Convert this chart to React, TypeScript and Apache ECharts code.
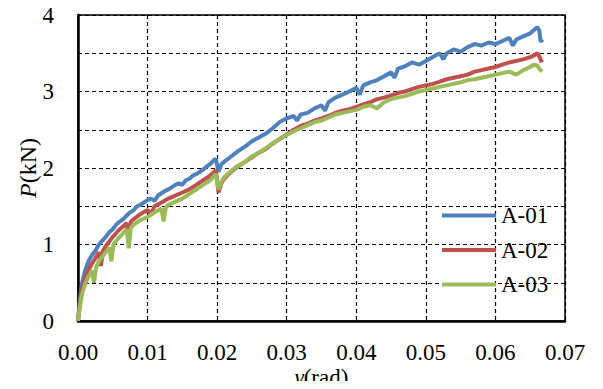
import React, { useEffect, useRef } from "react";
import * as echarts from "echarts";

const seriesNames = ["A-01", "A-02", "A-03"];
const seriesColors = ["#4F81BD", "#C0504D", "#9BBB59"];

const dataA01: [number, number][] = [
  [0, 0], [0.0003, 0.3], [0.0006, 0.5], [0.001, 0.65], [0.0015, 0.78], [0.002, 0.86], [0.0025, 0.92], [0.003, 1.0],
  [0.0035, 1.05], [0.004, 1.1], [0.0045, 1.16], [0.005, 1.2], [0.0055, 1.26], [0.006, 1.3], [0.0065, 1.33], [0.007, 1.38],
  [0.0075, 1.42], [0.008, 1.45], [0.0085, 1.5], [0.009, 1.52], [0.0095, 1.55], [0.01, 1.58], [0.0105, 1.6], [0.011, 1.57],
  [0.0115, 1.64], [0.012, 1.67], [0.0125, 1.7], [0.013, 1.72], [0.0135, 1.75], [0.014, 1.78], [0.0145, 1.8], [0.015, 1.78],
  [0.0155, 1.84], [0.016, 1.86], [0.0165, 1.9], [0.017, 1.92], [0.0175, 1.95], [0.018, 1.98], [0.0185, 2.02], [0.019, 2.05],
  [0.0195, 2.1], [0.0198, 2.12], [0.0202, 1.95], [0.0206, 2.05], [0.021, 2.08], [0.022, 2.15], [0.023, 2.22], [0.024, 2.28],
  [0.025, 2.35], [0.026, 2.4], [0.027, 2.45], [0.028, 2.52], [0.029, 2.6], [0.03, 2.65], [0.031, 2.68], [0.0315, 2.62],
  [0.032, 2.7], [0.033, 2.72], [0.034, 2.78], [0.035, 2.82], [0.0355, 2.75], [0.036, 2.86], [0.037, 2.92], [0.038, 2.96],
  [0.039, 3.0], [0.04, 3.05], [0.0405, 2.96], [0.041, 3.08], [0.042, 3.12], [0.043, 3.15], [0.044, 3.2], [0.045, 3.25],
  [0.0455, 3.18], [0.046, 3.3], [0.047, 3.33], [0.048, 3.38], [0.049, 3.35], [0.05, 3.4], [0.051, 3.45], [0.052, 3.5],
  [0.0525, 3.42], [0.053, 3.5], [0.054, 3.55], [0.055, 3.52], [0.056, 3.58], [0.057, 3.62], [0.058, 3.6], [0.059, 3.64],
  [0.06, 3.62], [0.061, 3.66], [0.062, 3.7], [0.0625, 3.6], [0.063, 3.68], [0.064, 3.72], [0.065, 3.76], [0.0655, 3.8],
  [0.066, 3.84], [0.0663, 3.8], [0.0665, 3.65], [0.0668, 3.68],
];

const dataA02: [number, number][] = [
  [0, 0], [0.0003, 0.25], [0.0006, 0.42], [0.001, 0.55], [0.0015, 0.66], [0.002, 0.75], [0.0025, 0.82], [0.003, 0.9],
  [0.0033, 0.72], [0.0036, 0.92], [0.004, 0.98], [0.0045, 1.04], [0.005, 1.1], [0.0055, 1.15], [0.006, 1.2], [0.0065, 1.24],
  [0.007, 1.28], [0.0073, 1.08], [0.0076, 1.3], [0.008, 1.33], [0.009, 1.4], [0.01, 1.45], [0.0105, 1.4], [0.011, 1.5],
  [0.012, 1.55], [0.013, 1.6], [0.014, 1.64], [0.015, 1.68], [0.016, 1.72], [0.017, 1.78], [0.018, 1.84], [0.019, 1.9],
  [0.0198, 1.97], [0.0202, 1.68], [0.0206, 1.8], [0.021, 1.86], [0.022, 1.95], [0.023, 2.02], [0.024, 2.08], [0.025, 2.14],
  [0.026, 2.2], [0.027, 2.25], [0.028, 2.32], [0.029, 2.38], [0.03, 2.44], [0.031, 2.5], [0.032, 2.55], [0.033, 2.58],
  [0.034, 2.62], [0.035, 2.65], [0.036, 2.68], [0.037, 2.72], [0.038, 2.75], [0.039, 2.77], [0.04, 2.8], [0.041, 2.83],
  [0.042, 2.86], [0.043, 2.9], [0.044, 2.92], [0.045, 2.95], [0.046, 2.98], [0.047, 3.0], [0.048, 3.03], [0.049, 3.06],
  [0.05, 3.08], [0.051, 3.1], [0.052, 3.13], [0.053, 3.16], [0.054, 3.18], [0.055, 3.2], [0.056, 3.22], [0.057, 3.26],
  [0.058, 3.28], [0.059, 3.3], [0.06, 3.32], [0.061, 3.35], [0.062, 3.38], [0.063, 3.4], [0.064, 3.42], [0.065, 3.45],
  [0.0655, 3.47], [0.066, 3.5], [0.0663, 3.46], [0.0667, 3.38],
];

const dataA03: [number, number][] = [
  [0, 0], [0.0003, 0.2], [0.0006, 0.36], [0.001, 0.48], [0.0015, 0.58], [0.002, 0.66], [0.0023, 0.5], [0.0026, 0.7],
  [0.003, 0.78], [0.0035, 0.84], [0.004, 0.9], [0.0045, 0.96], [0.0048, 0.78], [0.0051, 1.0], [0.0055, 1.05], [0.006, 1.1],
  [0.0065, 1.15], [0.007, 1.2], [0.0073, 0.95], [0.0076, 1.22], [0.008, 1.26], [0.009, 1.32], [0.01, 1.36], [0.011, 1.42],
  [0.012, 1.47], [0.0123, 1.3], [0.0126, 1.48], [0.013, 1.52], [0.014, 1.56], [0.015, 1.6], [0.016, 1.66], [0.017, 1.72],
  [0.018, 1.78], [0.019, 1.84], [0.0198, 1.92], [0.0202, 1.72], [0.0206, 1.82], [0.021, 1.88], [0.022, 1.96], [0.023, 2.03],
  [0.024, 2.08], [0.025, 2.15], [0.026, 2.2], [0.027, 2.26], [0.028, 2.32], [0.029, 2.38], [0.03, 2.43], [0.031, 2.48],
  [0.032, 2.52], [0.033, 2.56], [0.034, 2.6], [0.035, 2.62], [0.036, 2.66], [0.037, 2.7], [0.038, 2.72], [0.039, 2.74],
  [0.04, 2.76], [0.041, 2.8], [0.042, 2.82], [0.043, 2.78], [0.044, 2.86], [0.045, 2.9], [0.046, 2.92], [0.047, 2.94],
  [0.048, 2.97], [0.049, 3.0], [0.05, 3.02], [0.051, 3.04], [0.052, 3.06], [0.053, 3.08], [0.054, 3.1], [0.055, 3.12],
  [0.056, 3.15], [0.057, 3.16], [0.058, 3.18], [0.059, 3.2], [0.06, 3.22], [0.061, 3.24], [0.062, 3.26], [0.063, 3.22],
  [0.064, 3.28], [0.065, 3.32], [0.0655, 3.35], [0.066, 3.34], [0.0663, 3.3], [0.0667, 3.26],
];

const allData = [dataA01, dataA02, dataA03];

const FONT = "Liberation Serif";

export default function App() {
  const ref = useRef<HTMLDivElement>(null);
  useEffect(() => {
    if (!ref.current) return;
    const chart = echarts.init(ref.current, null, { renderer: "svg" });
    chart.setOption({
      animation: false,
      backgroundColor: "#fff",
      grid: {
        left: 78,
        right: 38,
        top: 15,
        bottom: 68,
        show: true,
        borderColor: "#000",
        borderWidth: 1.5,
        containLabel: false,
        outerBoundsMode: "none",
      },
      legend: {
        orient: "vertical",
        left: 442,
        top: 204,
        padding: 0,
        icon: "rect",
        itemWidth: 54,
        itemHeight: 4,
        itemGap: 11.5,
        data: seriesNames,
        textStyle: { fontFamily: FONT, fontSize: 23, color: "#000", lineHeight: 23 },
      },
      xAxis: {
        type: "value",
        min: 0,
        max: 0.07,
        interval: 0.01,
        name: "{i|γ}(rad)",
        nameLocation: "middle",
        nameGap: 45,
        nameMoveOverlap: false,
        nameTextStyle: {
          fontFamily: FONT,
          fontSize: 23,
          color: "#000",
          lineHeight: 23,
          rich: { i: { fontStyle: "italic", fontFamily: FONT, fontSize: 23, color: "#000", lineHeight: 23 } },
        },
        axisLine: { show: true, lineStyle: { color: "#000", width: 2.5 } },
        axisTick: { show: false },
        axisLabel: {
          fontFamily: FONT,
          fontSize: 23,
          color: "#000",
          lineHeight: 23,
          margin: 20,
          formatter: (v: number) => v.toFixed(2),
        },
        splitLine: { show: true, lineStyle: { color: "#000", type: [4, 3], width: 1.2 } },
      },
      yAxis: {
        type: "value",
        min: 0,
        max: 4,
        interval: 0.5,
        name: "{i|P}(kN)",
        nameLocation: "middle",
        nameGap: 38,
        nameMoveOverlap: false,
        nameRotate: 90,
        nameTextStyle: {
          fontFamily: FONT,
          fontSize: 24,
          color: "#000",
          rich: { i: { fontStyle: "italic", fontFamily: FONT, fontSize: 24, color: "#000" } },
        },
        axisLine: { show: true, lineStyle: { color: "#000", width: 2.5 } },
        axisTick: { show: false },
        axisLabel: {
          fontFamily: FONT,
          fontSize: 23,
          color: "#000",
          margin: 24,
          formatter: (v: number) => (Number.isInteger(v) ? String(v) : ""),
        },
        splitLine: { show: true, lineStyle: { color: "#000", type: [4, 3], width: 1.2 } },
      },
      series: seriesNames.map((name, i) => ({
        name,
        type: "line",
        data: allData[i],
        symbol: "none",
        showSymbol: false,
        color: seriesColors[i],
        lineStyle: { color: seriesColors[i], width: 4 },
      })),
    });
    return () => chart.dispose();
  }, []);
  return <div ref={ref} style={{ width: 603, height: 389, margin: -8 }} />;
}
